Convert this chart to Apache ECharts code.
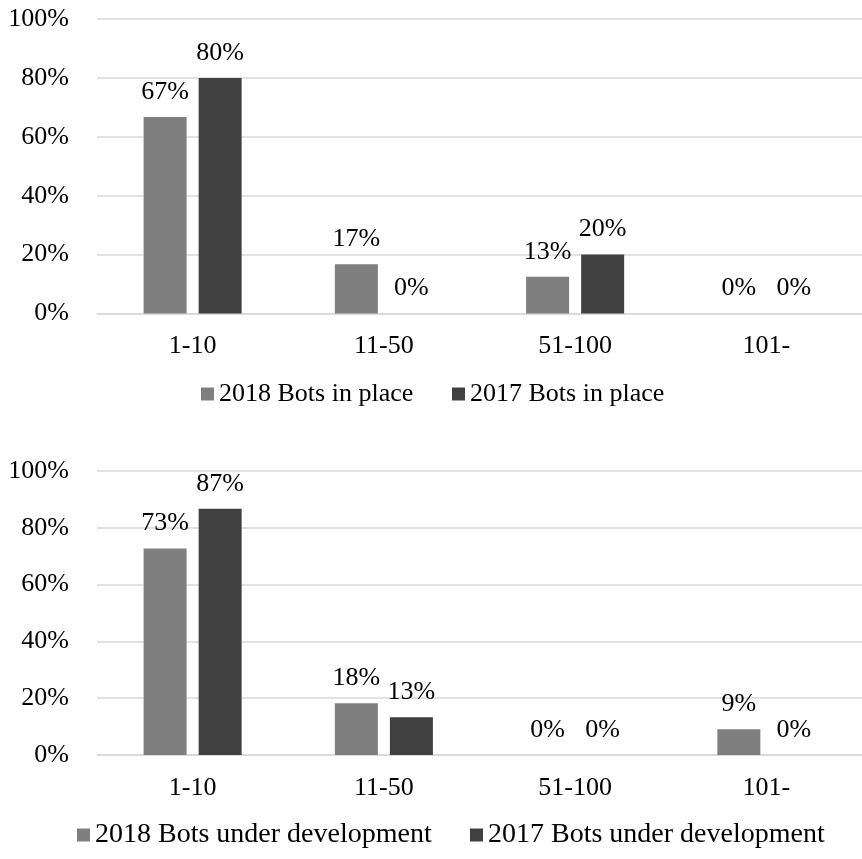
<!DOCTYPE html>
<html><head><meta charset="utf-8">
<script src="https://cdn.jsdelivr.net/npm/echarts@6/dist/echarts.min.js"></script>
<style>html,body{margin:0;padding:0;background:#fff}#c{width:862px;height:859px}</style>
</head><body><div id="c"></div>
<script>
var categories = ['1-10', '11-50', '51-100', '101-'];
var yTicks = [0, 20, 40, 60, 80, 100];
var inPlace2018 = [66.7, 16.7, 12.5, 0];
var inPlace2017 = [80, 0, 20, 0];
var underDev2018 = [72.7, 18.2, 0, 9.1];
var underDev2017 = [86.7, 13.3, 0, 0];
var names = ['2018 Bots in place', '2017 Bots in place', '2018 Bots under development', '2017 Bots under development'];

var FONT = 'Liberation Serif';
var FS = 26;
var C18 = '#7f7f7f', C17 = '#404040';
var chart = echarts.init(document.getElementById('c'));
function xAx(i){return {type:'category',gridIndex:i,data:categories,axisTick:{show:false},
  axisLine:{lineStyle:{color:'#d9d9d9',width:1.5}},axisLabel:{fontFamily:FONT,fontSize:FS,color:'#000',margin:20}};}
function yAx(i){return {type:'value',gridIndex:i,min:yTicks[0],max:yTicks[yTicks.length-1],interval:20,
  axisLine:{show:false},axisTick:{show:false},splitLine:{lineStyle:{color:'#d9d9d9',width:1.5}},
  axisLabel:{fontFamily:FONT,fontSize:FS,color:'#000',margin:28,formatter:'{value}%'}};}
function ser(name,data,color,i){return {name:name,type:'bar',xAxisIndex:i,yAxisIndex:i,data:data,barWidth:43,barGap:'28%',
  itemStyle:{color:color},label:{show:true,position:'top',distance:12,fontFamily:FONT,fontSize:FS,color:'#000',
  formatter:function(p){return Math.round(p.value)+'%';}}};}
function leg(name,left,top,fs){return {data:[name],left:left,top:top,itemWidth:13,itemHeight:13,itemGap:0,
  icon:'rect',textStyle:{fontFamily:FONT,fontSize:fs,color:'#000'},selectedMode:false};}
chart.setOption({
  animation:false,
  grid:[{left:97,right:0,top:19,height:294.5},{left:97,right:0,top:471,height:284}],
  xAxis:[xAx(0),xAx(1)],
  yAxis:[yAx(0),yAx(1)],
  legend:[leg(names[0],196,376,26),leg(names[1],447,376,26),leg(names[2],72,816,28),leg(names[3],465,816,28)],
  series:[ser(names[0],inPlace2018,C18,0),ser(names[1],inPlace2017,C17,0),
          ser(names[2],underDev2018,C18,1),ser(names[3],underDev2017,C17,1)]
});
</script></body></html>
